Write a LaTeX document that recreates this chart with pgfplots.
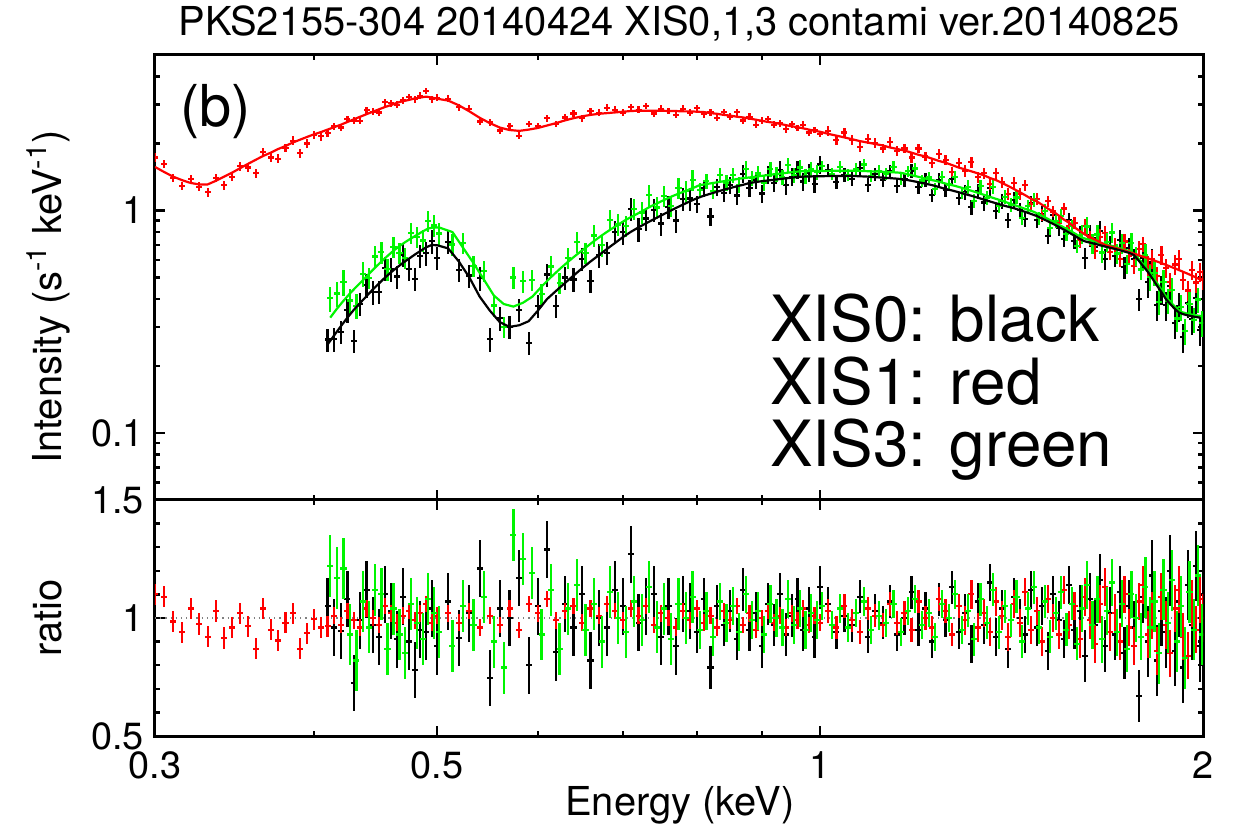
\documentclass[border=0pt]{standalone}
\usepackage{fontspec}
\setmainfont{TeX Gyre Heros}
\usepackage{pgfplots}
\usepackage{pgfplotstable}
\pgfplotsset{compat=1.18}
\makeatletter
\pgfplotsset{error bars/draw error bar/.code 2 args={\pgfsetlinewidth{1.1bp}\tikz@scan@one@point\pgfpathmoveto#1\relax\tikz@scan@one@point\pgfpathlineto#2\relax\pgfusepath{stroke}}}
\makeatother

\pgfplotstableread{
E y r er m
0.300 1.73 1.10 0.045 1.57
0.305 1.62 1.09 0.045 1.49
0.310 1.40 0.985 0.045 1.42
0.315 1.29 0.94 0.045 1.37
0.320 1.38 1.04 0.045 1.33
0.325 1.28 0.975 0.045 1.31
0.330 1.21 0.92 0.045 1.31
0.335 1.40 1.03 0.045 1.36
0.340 1.30 0.915 0.045 1.42
0.345 1.42 0.96 0.045 1.48
0.350 1.58 1.02 0.045 1.55
0.355 1.56 0.965 0.045 1.62
0.360 1.47 0.87 0.045 1.69
0.365 1.83 1.04 0.045 1.76
0.370 1.73 0.95 0.045 1.82
0.375 1.71 0.905 0.045 1.89
0.380 1.91 0.98 0.045 1.95
0.385 2.06 1.02 0.045 2.02
0.390 1.81 0.87 0.045 2.08
0.395 2.00 0.935 0.045 2.14
0.400 2.19 0.995 0.045 2.20
0.405 2.16 0.96 0.045 2.25
0.410 2.23 0.965 0.045 2.31
0.415 2.39 1.01 0.035 2.37
0.420 2.36 0.97 0.035 2.43
0.425 2.58 1.03 0.035 2.50
0.430 2.54 0.99 0.035 2.57
0.435 2.53 0.96 0.035 2.64
0.440 2.82 1.04 0.035 2.71
0.445 2.78 1.00 0.035 2.78
0.450 2.76 0.97 0.035 2.85
0.455 3.07 1.05 0.035 2.92
0.460 3.04 1.02 0.035 2.98
0.465 2.99 0.98 0.035 3.05
0.470 3.13 1.01 0.035 3.10
0.475 3.23 1.03 0.035 3.14
0.480 3.16 0.99 0.035 3.19
0.485 3.28 1.02 0.035 3.22
0.490 3.45 1.06 0.035 3.25
0.495 3.16 0.98 0.035 3.22
0.500 3.21 1.01 0.035 3.18
0.51 3.18 1.02 0.035 3.12
0.52 2.91 0.98 0.035 2.97
0.53 2.87 1.03 0.035 2.79
0.54 2.51 0.96 0.035 2.61
0.55 2.49 1.01 0.035 2.47
0.56 2.29 0.97 0.035 2.36
0.57 2.39 1.04 0.035 2.30
0.58 2.17 0.95 0.035 2.28
0.59 2.45 1.06 0.035 2.31
0.60 2.40 1.02 0.035 2.35
0.61 2.60 1.08 0.035 2.41
0.62 2.45 0.99 0.035 2.47
0.63 2.62 1.03 0.035 2.54
0.64 2.73 1.05 0.035 2.60
0.65 2.60 0.98 0.035 2.65
0.66 2.80 1.04 0.035 2.69
0.67 2.75 1.01 0.035 2.72
0.68 2.90 1.06 0.035 2.74
0.69 2.84 1.03 0.035 2.76
0.70 2.75 0.99 0.035 2.78
0.71 2.91 1.04 0.035 2.80
0.72 2.84 1.01 0.035 2.81
0.73 2.95 1.05 0.035 2.81
0.74 2.73 0.97 0.035 2.81
0.75 2.87 1.02 0.035 2.81
0.76 2.80 1.00 0.035 2.80
0.77 2.69 0.96 0.035 2.80
0.78 2.87 1.03 0.035 2.79
0.79 2.76 0.99 0.035 2.79
0.80 2.89 1.04 0.035 2.78
0.81 2.71 0.98 0.035 2.77
0.82 2.77 1.01 0.035 2.74
0.83 2.61 0.96 0.035 2.72
0.84 2.77 1.03 0.035 2.69
0.85 2.64 0.99 0.035 2.67
0.86 2.77 1.05 0.035 2.64
0.87 2.54 0.97 0.035 2.62
0.88 2.64 1.02 0.035 2.59
0.89 2.43 0.95 0.035 2.56
0.90 2.53 1.00 0.035 2.53
0.91 2.58 1.03 0.035 2.50
0.92 2.43 0.98 0.035 2.48
0.93 2.47 1.01 0.035 2.45
0.94 2.32 0.96 0.035 2.42
0.95 2.44 1.02 0.035 2.39
0.96 2.35 0.99 0.035 2.37
0.97 2.43 1.04 0.035 2.34
0.98 2.24 0.97 0.035 2.31
0.99 2.30 1.01 0.035 2.28
1.00 2.21 0.98 0.035 2.26
1.015 2.28 1.03 0.05 2.21
1.030 2.08 0.96 0.05 2.17
1.045 2.24 1.05 0.05 2.13
1.060 2.07 0.99 0.05 2.09
1.075 1.93 0.94 0.05 2.05
1.090 2.10 1.04 0.05 2.02
1.105 2.01 1.01 0.05 1.99
1.120 1.90 0.97 0.05 1.96
1.135 2.04 1.06 0.05 1.92
1.150 1.85 0.98 0.05 1.89
1.165 1.90 1.02 0.05 1.86
1.180 1.73 0.95 0.05 1.82
1.195 1.90 1.07 0.05 1.78
1.210 1.75 1.00 0.05 1.75
1.225 1.64 0.96 0.05 1.71
1.240 1.80 1.08 0.05 1.67
1.255 1.69 1.03 0.05 1.64
1.270 1.49 0.93 0.05 1.60
1.285 1.64 1.05 0.05 1.56
1.300 1.51 0.99 0.06 1.53
1.315 1.65 1.10 0.06 1.50
1.330 1.41 0.96 0.06 1.47
1.345 1.47 1.02 0.06 1.44
1.360 1.32 0.94 0.06 1.40
1.375 1.47 1.07 0.06 1.37
1.390 1.34 1.01 0.06 1.33
1.405 1.19 0.92 0.06 1.29
1.420 1.33 1.06 0.06 1.25
1.435 1.19 0.98 0.06 1.21
1.450 1.30 1.11 0.06 1.17
1.465 1.07 0.95 0.06 1.13
1.480 1.13 1.03 0.06 1.10
1.495 0.954 0.90 0.06 1.06
1.510 1.10 1.08 0.06 1.02
1.525 0.99 1.00 0.06 0.99
1.540 0.884 0.93 0.06 0.95
1.555 1.02 1.12 0.06 0.91
1.570 0.854 0.97 0.06 0.88
1.585 0.882 1.05 0.06 0.84
1.600 0.737 0.91 0.08 0.81
1.615 0.850 1.09 0.08 0.78
1.630 0.752 0.99 0.08 0.76
1.645 0.659 0.89 0.08 0.74
1.660 0.763 1.06 0.08 0.72
1.675 0.791 1.13 0.08 0.70
1.690 0.649 0.94 0.08 0.69
1.705 0.694 1.02 0.08 0.68
1.720 0.603 0.90 0.08 0.67
1.735 0.726 1.10 0.08 0.66
1.750 0.624 0.96 0.08 0.65
1.765 0.563 0.88 0.08 0.64
1.780 0.674 1.07 0.08 0.63
1.795 0.707 1.14 0.08 0.62
1.810 0.567 0.93 0.10 0.61
1.825 0.606 1.01 0.10 0.60
1.840 0.507 0.86 0.10 0.59
1.855 0.632 1.09 0.10 0.58
1.870 0.553 0.97 0.10 0.57
1.885 0.476 0.85 0.10 0.56
1.900 0.572 1.04 0.10 0.55
1.915 0.605 1.12 0.10 0.54
1.930 0.488 0.92 0.10 0.53
1.945 0.437 0.84 0.10 0.52
1.960 0.541 1.06 0.10 0.51
1.975 0.475 0.95 0.10 0.50
1.990 0.529 1.08 0.10 0.49
2.000 0.49 1.00 0.10 0.49
}\tabred

\pgfplotstableread{
E y r er m
0.410 0.263 1.05 0.12 0.250
0.415 0.264 0.96 0.12 0.275
0.420 0.285 0.945 0.12 0.302
0.425 0.356 1.08 0.12 0.330
0.430 0.260 0.725 0.12 0.358
0.435 0.381 0.99 0.12 0.385
0.440 0.461 1.12 0.12 0.412
0.445 0.429 0.97 0.12 0.442
0.450 0.432 0.92 0.12 0.470
0.455 0.550 1.10 0.12 0.500
0.460 0.544 1.03 0.12 0.528
0.465 0.505 0.91 0.12 0.555
0.470 0.634 1.09 0.12 0.582
0.475 0.546 0.90 0.12 0.607
0.480 0.494 0.78 0.12 0.633
0.485 0.625 0.95 0.12 0.658
0.490 0.642 0.94 0.12 0.683
0.495 0.728 1.04 0.12 0.700
0.500 0.614 0.88 0.12 0.698
0.51 0.723 1.07 0.12 0.676
0.52 0.540 0.915 0.12 0.590
0.53 0.510 1.02 0.12 0.500
0.54 0.496 1.21 0.12 0.410
0.55 0.264 0.745 0.12 0.355
0.56 0.328 1.04 0.12 0.315
0.57 0.300 1.00 0.12 0.300
0.58 0.357 1.17 0.12 0.305
0.59 0.254 0.80 0.12 0.318
0.60 0.373 1.05 0.12 0.355
0.61 0.516 1.29 0.12 0.400
0.62 0.372 0.855 0.12 0.435
0.63 0.500 1.06 0.12 0.472
0.64 0.490 0.96 0.12 0.510
0.65 0.605 1.10 0.12 0.550
0.66 0.484 0.82 0.12 0.590
0.67 0.630 1.00 0.12 0.630
0.68 0.645 0.96 0.12 0.672
0.69 0.801 1.12 0.12 0.715
0.70 0.798 1.05 0.12 0.760
0.71 1.019 1.27 0.12 0.802
0.72 0.823 0.98 0.12 0.840
0.73 0.921 1.05 0.12 0.877
0.74 1.004 1.10 0.12 0.913
0.75 0.874 0.92 0.12 0.950
0.76 1.036 1.05 0.12 0.987
0.77 0.902 0.88 0.12 1.025
0.78 1.126 1.06 0.12 1.062
0.79 1.132 1.03 0.12 1.099
0.80 1.067 0.94 0.09 1.135
0.81 1.258 1.08 0.09 1.165
0.82 0.940 0.79 0.09 1.190
0.83 1.276 1.05 0.09 1.215
0.84 1.203 0.97 0.09 1.240
0.85 1.300 1.03 0.09 1.262
0.86 1.169 0.91 0.09 1.285
0.87 1.462 1.12 0.09 1.305
0.88 1.264 0.95 0.09 1.330
0.89 1.369 1.02 0.09 1.342
0.90 1.192 0.88 0.09 1.355
0.91 1.447 1.06 0.09 1.365
0.92 1.334 0.97 0.09 1.375
0.93 1.524 1.10 0.09 1.385
0.94 1.297 0.93 0.09 1.395
0.95 1.419 1.01 0.09 1.405
0.96 1.528 1.08 0.09 1.415
0.97 1.349 0.95 0.09 1.420
0.98 1.479 1.04 0.09 1.422
0.99 1.311 0.92 0.09 1.425
1.00 1.611 1.13 0.09 1.426
1.015 1.514 1.06 0.07 1.428
1.030 1.344 0.94 0.07 1.430
1.045 1.444 1.01 0.07 1.430
1.060 1.387 0.97 0.07 1.430
1.075 1.553 1.09 0.07 1.425
1.090 1.306 0.92 0.07 1.420
1.105 1.454 1.03 0.07 1.412
1.120 1.377 0.98 0.07 1.405
1.135 1.496 1.07 0.07 1.398
1.150 1.293 0.93 0.07 1.390
1.165 1.378 1.00 0.07 1.378
1.180 1.510 1.11 0.07 1.360
1.195 1.273 0.95 0.07 1.340
1.210 1.373 1.04 0.07 1.320
1.225 1.170 0.90 0.07 1.300
1.240 1.377 1.08 0.07 1.275
1.255 1.238 0.99 0.07 1.250
1.270 1.390 1.13 0.07 1.230
1.285 1.136 0.94 0.07 1.208
1.300 1.209 1.02 0.08 1.185
1.315 1.037 0.89 0.08 1.165
1.330 1.222 1.07 0.08 1.142
1.345 1.086 0.97 0.08 1.120
1.360 1.263 1.15 0.08 1.098
1.375 0.992 0.92 0.08 1.078
1.390 1.100 1.04 0.08 1.058
1.405 0.905 0.87 0.08 1.040
1.420 1.117 1.09 0.08 1.025
1.435 1.005 1.00 0.08 1.005
1.450 0.916 0.93 0.08 0.985
1.465 1.081 1.12 0.08 0.965
1.480 0.907 0.96 0.08 0.945
1.495 0.966 1.05 0.08 0.920
1.510 0.770 0.86 0.08 0.895
1.525 0.957 1.10 0.08 0.870
1.540 0.837 0.99 0.08 0.845
1.555 0.746 0.91 0.08 0.820
1.570 0.906 1.14 0.08 0.795
1.585 0.732 0.95 0.08 0.770
1.600 0.767 1.03 0.11 0.745
1.615 0.611 0.84 0.11 0.727
1.630 0.774 1.08 0.11 0.717
1.645 0.687 0.97 0.11 0.708
1.660 0.810 1.16 0.11 0.698
1.675 0.606 0.88 0.11 0.689
1.690 0.694 1.02 0.11 0.680
1.705 0.625 0.93 0.11 0.672
1.720 0.736 1.11 0.11 0.663
1.735 0.556 0.85 0.11 0.654
1.750 0.677 1.05 0.11 0.645
1.765 0.605 0.96 0.11 0.630
1.780 0.399 0.67 0.11 0.596
1.795 0.613 1.09 0.11 0.562
1.810 0.477 0.90 0.15 0.530
1.825 0.584 1.18 0.15 0.495
1.840 0.377 0.82 0.15 0.460
1.855 0.443 1.03 0.15 0.430
1.870 0.376 0.94 0.15 0.400
1.885 0.456 1.20 0.15 0.380
1.900 0.311 0.86 0.15 0.362
1.915 0.372 1.07 0.15 0.348
1.930 0.270 0.79 0.15 0.342
1.945 0.385 1.14 0.15 0.338
1.960 0.325 0.97 0.15 0.335
1.975 0.405 1.22 0.15 0.332
1.990 0.290 0.88 0.15 0.330
}\tabblack

\pgfplotstableread{
E y r er m
0.412 0.403 1.22 0.13 0.330
0.417 0.424 1.17 0.13 0.362
0.422 0.476 1.21 0.13 0.393
0.427 0.394 0.93 0.13 0.424
0.432 0.373 0.82 0.13 0.455
0.437 0.519 1.07 0.13 0.485
0.442 0.499 0.96 0.11 0.520
0.447 0.622 1.12 0.11 0.555
0.452 0.649 1.10 0.11 0.590
0.457 0.544 0.87 0.11 0.625
0.462 0.686 1.04 0.11 0.660
0.467 0.644 0.93 0.11 0.692
0.472 0.614 0.85 0.11 0.722
0.477 0.795 1.06 0.11 0.750
0.482 0.761 0.98 0.11 0.777
0.487 0.733 0.91 0.11 0.805
0.492 0.896 1.08 0.11 0.830
0.497 0.857 1.02 0.11 0.840
0.502 0.788 0.94 0.11 0.838
0.514 0.704 0.88 0.11 0.800
0.524 0.714 1.05 0.11 0.680
0.534 0.563 0.97 0.11 0.580
0.544 0.534 1.09 0.11 0.490
0.554 0.374 0.90 0.11 0.415
0.564 0.300 0.79 0.11 0.380
0.574 0.500 1.35 0.11 0.370
0.584 0.481 1.25 0.11 0.385
0.594 0.488 1.19 0.11 0.410
0.604 0.423 0.93 0.11 0.455
0.614 0.560 1.12 0.11 0.500
0.624 0.474 0.87 0.11 0.545
0.634 0.614 1.04 0.11 0.590
0.644 0.724 1.14 0.11 0.635
0.654 0.646 0.95 0.11 0.680
0.664 0.772 1.06 0.11 0.728
0.674 0.698 0.90 0.11 0.775
0.684 0.910 1.11 0.11 0.820
0.694 0.865 1.00 0.11 0.865
0.704 0.855 0.94 0.11 0.910
0.714 1.017 1.07 0.11 0.950
0.724 0.980 0.99 0.11 0.990
0.734 1.170 1.13 0.11 1.035
0.744 1.032 0.96 0.11 1.075
0.754 1.160 1.04 0.11 1.115
0.764 1.051 0.91 0.11 1.155
0.774 1.261 1.06 0.11 1.190
0.784 1.225 1.00 0.11 1.225
0.794 1.373 1.09 0.11 1.260
0.804 1.235 0.95 0.08 1.300
0.814 1.354 1.03 0.08 1.315
0.824 1.224 0.92 0.08 1.330
0.834 1.439 1.07 0.08 1.345
0.844 1.333 0.98 0.08 1.360
0.854 1.444 1.05 0.08 1.375
0.864 1.307 0.94 0.08 1.390
0.874 1.542 1.10 0.08 1.402
0.884 1.398 0.99 0.08 1.412
0.894 1.468 1.03 0.08 1.425
0.904 1.335 0.93 0.08 1.436
0.914 1.534 1.06 0.08 1.447
0.924 1.458 1.00 0.08 1.458
0.934 1.410 0.96 0.08 1.469
0.944 1.598 1.08 0.08 1.480
0.954 1.445 0.97 0.08 1.490
0.964 1.560 1.04 0.08 1.500
0.974 1.427 0.95 0.08 1.502
0.984 1.534 1.02 0.08 1.504
0.994 1.490 0.99 0.08 1.505
1.004 1.581 1.05 0.06 1.506
1.022 1.463 0.97 0.06 1.508
1.037 1.569 1.04 0.06 1.509
1.052 1.450 0.96 0.06 1.510
1.067 1.539 1.02 0.06 1.509
1.082 1.610 1.07 0.06 1.505
1.097 1.425 0.95 0.06 1.500
1.112 1.510 1.01 0.06 1.495
1.127 1.460 0.98 0.06 1.490
1.142 1.574 1.06 0.06 1.485
1.157 1.389 0.94 0.06 1.478
1.172 1.499 1.03 0.06 1.455
1.187 1.544 1.08 0.06 1.430
1.202 1.363 0.97 0.06 1.405
1.217 1.408 1.02 0.06 1.380
1.232 1.251 0.92 0.06 1.360
1.247 1.415 1.06 0.06 1.335
1.262 1.310 1.00 0.06 1.310
1.277 1.419 1.10 0.06 1.290
1.292 1.202 0.95 0.06 1.265
1.307 1.277 1.03 0.07 1.240
1.322 1.106 0.91 0.07 1.215
1.337 1.285 1.08 0.07 1.190
1.352 1.142 0.98 0.07 1.165
1.367 1.277 1.12 0.07 1.140
1.382 1.051 0.94 0.07 1.118
1.397 1.150 1.05 0.07 1.095
1.412 1.061 0.99 0.07 1.072
1.427 1.145 1.09 0.07 1.050
1.442 0.925 0.90 0.07 1.028
1.457 1.047 1.04 0.07 1.007
1.472 1.115 1.13 0.07 0.987
1.487 0.922 0.96 0.07 0.960
1.502 0.997 1.07 0.07 0.932
1.517 0.833 0.92 0.07 0.905
1.532 0.896 1.02 0.07 0.878
1.547 0.946 1.11 0.07 0.852
1.562 0.786 0.95 0.07 0.827
1.577 0.851 1.06 0.07 0.803
1.592 0.692 0.89 0.07 0.778
1.607 0.785 1.04 0.10 0.755
1.622 0.847 1.14 0.10 0.743
1.637 0.710 0.97 0.10 0.732
1.652 0.780 1.08 0.10 0.722
1.667 0.648 0.91 0.10 0.712
1.682 0.723 1.03 0.10 0.702
1.697 0.796 1.15 0.10 0.692
1.712 0.641 0.94 0.10 0.682
1.727 0.712 1.06 0.10 0.672
1.742 0.576 0.87 0.10 0.662
1.757 0.717 1.10 0.10 0.652
1.772 0.625 1.00 0.10 0.625
1.787 0.543 0.92 0.10 0.590
1.802 0.629 1.13 0.13 0.557
1.817 0.501 0.96 0.13 0.522
1.832 0.524 1.07 0.13 0.490
1.847 0.389 0.85 0.13 0.458
1.862 0.476 1.12 0.13 0.425
1.877 0.392 0.98 0.13 0.400
1.892 0.441 1.16 0.13 0.380
1.907 0.327 0.90 0.13 0.363
1.922 0.368 1.05 0.13 0.350
1.937 0.287 0.83 0.13 0.346
1.952 0.380 1.11 0.13 0.342
1.967 0.322 0.95 0.13 0.339
1.982 0.398 1.18 0.13 0.337
1.997 0.312 0.93 0.13 0.335
}\tabgreen

\definecolor{xred}{RGB}{255,0,0}
\definecolor{xgreen}{RGB}{0,245,0}

\begin{document}
\begin{tikzpicture}
\path[use as bounding box] (0,0) rectangle (617.5bp,414.5bp);
\begin{axis}[at={(77.5bp,164.5bp)}, anchor=south west,
  scale only axis, width=524bp, height=222.5bp,
  xmode=log, xmin=0.3, xmax=2,
  xtick={0.3,0.5,1,2}, xticklabels={},
  minor xtick={0.4,0.6,0.7,0.8,0.9},
  tick align=inside,
  axis line style={line width=1.5bp},
  tick style={black, line width=1.2bp},
  major tick length=5bp, minor tick length=2.5bp,
  tick label style={font=\fontsize{19}{22}\selectfont},
  yticklabel style={xshift=-2bp},
  ymode=log, ymin=0.05, ymax=5,
  ytick={0.1,1}, yticklabels={0.1,1},
  minor ytick={0.06,0.07,0.08,0.09,0.2,0.3,0.4,0.5,0.6,0.7,0.8,0.9,2,3,4}]
\addplot[black, draw=none, no markers,
  error bars/x dir=both, error bars/x fixed relative=0.0055,
  error bars/y dir=both, error bars/y explicit relative]
  table[x=E, y=y, y error=er] {\tabblack};
\addplot[xred, draw=none, no markers,
  error bars/x dir=both, error bars/x fixed relative=0.0055,
  error bars/y dir=both, error bars/y explicit relative]
  table[x=E, y=y, y error=er] {\tabred};
\addplot[xgreen, draw=none, no markers,
  error bars/x dir=both, error bars/x fixed relative=0.0055,
  error bars/y dir=both, error bars/y explicit relative]
  table[x=E, y=y, y error=er] {\tabgreen};
\addplot[xgreen, line width=1.1bp, no marks] table[x=E, y=m] {\tabgreen};
\addplot[xred, line width=1.1bp, no marks] table[x=E, y=m] {\tabred};
\addplot[black, line width=1.1bp, no marks] table[x=E, y=m] {\tabblack};
\end{axis}
\begin{axis}[at={(77.5bp,46.5bp)}, anchor=south west,
  scale only axis, width=524bp, height=118bp,
  xmode=log, xmin=0.3, xmax=2,
  xtick={0.3,0.5,1,2}, xticklabels={0.3,0.5,1,2},
  minor xtick={0.4,0.6,0.7,0.8,0.9},
  tick align=inside,
  axis line style={line width=1.5bp},
  tick style={black, line width=1.2bp},
  major tick length=5bp, minor tick length=2.5bp,
  tick label style={font=\fontsize{19}{22}\selectfont},
  xticklabel style={yshift=-4.5bp},
  yticklabel style={xshift=-2bp},
  ymin=0.5, ymax=1.5,
  ytick={0.5,1,1.5}, yticklabels={0.5,1,1.5},
  minor ytick={0.6,0.7,0.8,0.9,1.1,1.2,1.3,1.4}]
\addplot[gray, dotted, line width=0.6bp, no marks] coordinates {(0.3,1) (2,1)};
\addplot[black, draw=none, no markers,
  error bars/x dir=both, error bars/x fixed relative=0.0055,
  error bars/y dir=both, error bars/y explicit]
  table[x=E, y=r, y error=er] {\tabblack};
\addplot[xred, draw=none, no markers,
  error bars/x dir=both, error bars/x fixed relative=0.0055,
  error bars/y dir=both, error bars/y explicit]
  table[x=E, y=r, y error=er] {\tabred};
\addplot[xgreen, draw=none, no markers,
  error bars/x dir=both, error bars/x fixed relative=0.0055,
  error bars/y dir=both, error bars/y explicit]
  table[x=E, y=r, y error=er] {\tabgreen};
\end{axis}
\node[anchor=base] at (339.5bp,396.5bp) {\fontsize{20}{24}\selectfont PKS2155-304 20140424 XIS0,1,3 contami ver.20140825};
\node[anchor=base west, inner sep=0pt] at (90bp,351bp) {\fontsize{29}{34}\selectfont (b)};
\node[anchor=base west, inner sep=0pt] at (385bp,243.5bp) {\fontsize{32}{38}\selectfont XIS0: black};
\node[anchor=base west, inner sep=0pt] at (385bp,212bp) {\fontsize{32}{38}\selectfont XIS1: red};
\node[anchor=base west, inner sep=0pt] at (385bp,181bp) {\fontsize{32}{38}\selectfont XIS3: green};
\node[anchor=base, inner sep=0pt] at (340bp,7bp) {\fontsize{20}{24}\selectfont Energy (keV)};
\node[anchor=base, rotate=90, inner sep=0pt] at (30.5bp,266bp) {\fontsize{20}{24}\selectfont Intensity (s\textsuperscript{-1} keV\textsuperscript{-1})};
\node[anchor=base, rotate=90, inner sep=0pt] at (30.5bp,105.5bp) {\fontsize{20}{24}\selectfont ratio};
\end{tikzpicture}
\end{document}
